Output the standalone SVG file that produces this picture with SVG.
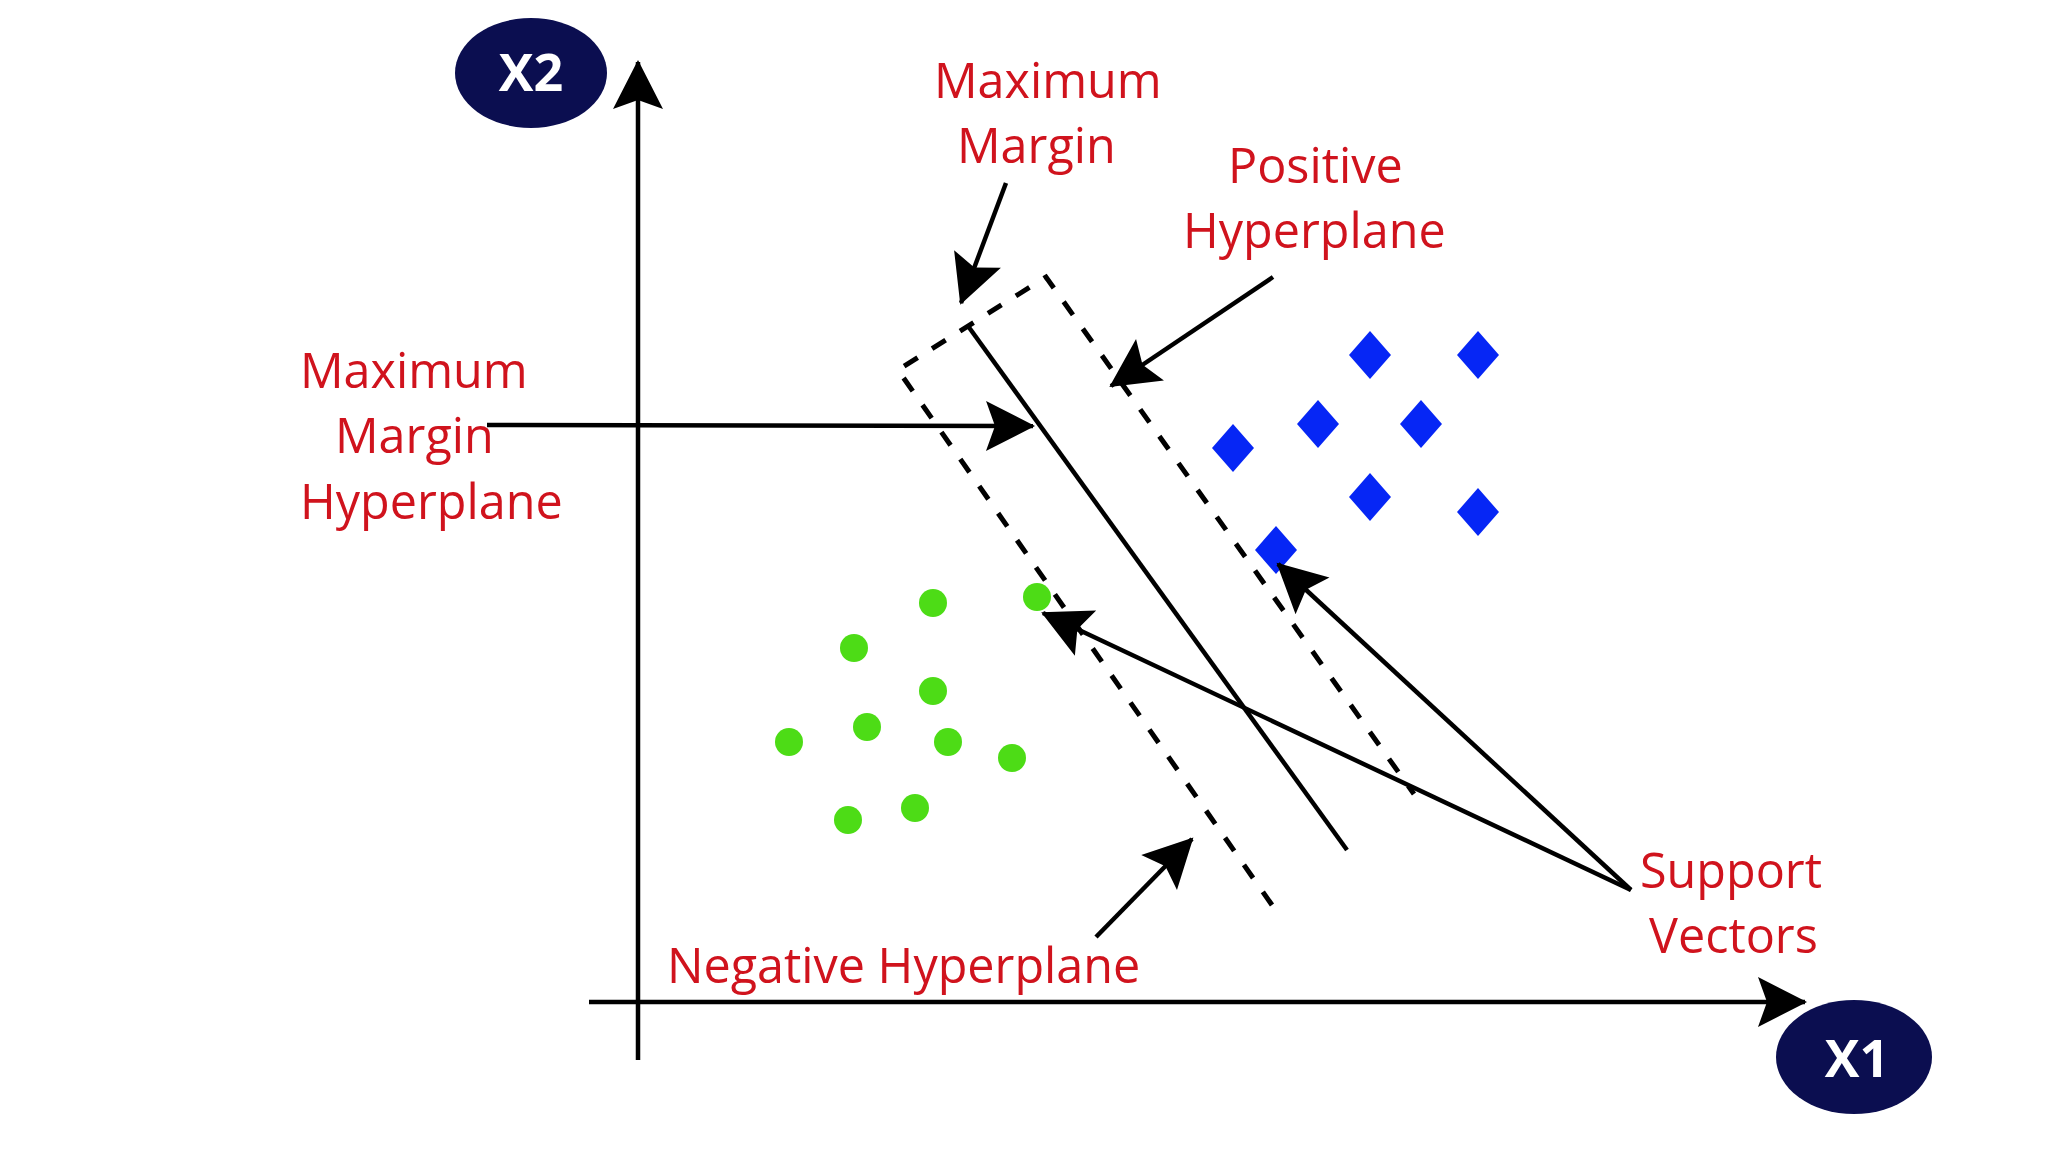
<svg xmlns="http://www.w3.org/2000/svg" width="2048" height="1152" viewBox="0 0 2048 1152">
<style>
.lbl{font-family:"Open Sans","Noto Sans","Liberation Sans",sans-serif;font-size:48.5px;fill:#d0131d}
.ax{font-family:"Open Sans","Noto Sans","Liberation Sans",sans-serif;font-size:52px;font-weight:700;fill:#ffffff;text-anchor:middle}
.navy{fill:#0b0e50}
.ln{stroke:#000;stroke-width:4.5;fill:none}
.dash{stroke:#000;stroke-width:5;fill:none;stroke-dasharray:16 17}
.dia{fill:#0626f5}
.dot{fill:#4ddc16}
</style>
<defs>
<marker id="ah" viewBox="-50 -28 54 56" refX="0" refY="0" markerWidth="54" markerHeight="56" markerUnits="userSpaceOnUse" orient="auto">
<path d="M2,0 L-47,-25 L-38,0 L-47,25 Z" fill="#000"/>
</marker>
</defs>
<rect width="2048" height="1152" fill="#ffffff"/>

<g id="axes">
<line class="ln" x1="638" y1="1060" x2="638" y2="62" stroke-width="6" marker-end="url(#ah)"/>
<line class="ln" x1="589" y1="1002" x2="1805" y2="1002" stroke-width="5.5" marker-end="url(#ah)"/>
</g>

<g id="node-x2">
<ellipse class="navy" cx="531" cy="73" rx="76" ry="55"/>
<text class="ax" x="531" y="91">X2</text>
</g>
<g id="node-x1">
<ellipse class="navy" cx="1854" cy="1057" rx="78" ry="57"/>
<text class="ax" x="1857" y="1077">X1</text>
</g>

<g id="margin-box">
<polyline class="dash" points="1272,905 898,370 1046,277 1414,794"/>
</g>
<g id="hyperplane">
<line class="ln" x1="968" y1="326" x2="1347" y2="850" stroke-width="4"/>
</g>

<g id="positive-points">
<path class="dia" d="M1370,331 L1391,355 L1370,379 L1349,355 Z"/>
<path class="dia" d="M1478,331 L1499,355 L1478,379 L1457,355 Z"/>
<path class="dia" d="M1233,424 L1254,448 L1233,472 L1212,448 Z"/>
<path class="dia" d="M1318,400 L1339,424 L1318,448 L1297,424 Z"/>
<path class="dia" d="M1421,400 L1442,424 L1421,448 L1400,424 Z"/>
<path class="dia" d="M1370,473 L1391,497 L1370,521 L1349,497 Z"/>
<path class="dia" d="M1478,488 L1499,512 L1478,536 L1457,512 Z"/>
<path class="dia" d="M1276,526 L1297,550 L1276,574 L1255,550 Z"/>
</g>

<g id="negative-points">
<circle class="dot" cx="933" cy="603" r="14"/>
<circle class="dot" cx="1037" cy="597" r="14"/>
<circle class="dot" cx="854" cy="648" r="14"/>
<circle class="dot" cx="933" cy="691" r="14"/>
<circle class="dot" cx="867" cy="727" r="14"/>
<circle class="dot" cx="789" cy="742" r="14"/>
<circle class="dot" cx="948" cy="742" r="14"/>
<circle class="dot" cx="1012" cy="758" r="14"/>
<circle class="dot" cx="848" cy="820" r="14"/>
<circle class="dot" cx="915" cy="808" r="14"/>
</g>

<g id="connectors">
<line class="ln" x1="1006" y1="183" x2="961" y2="303" marker-end="url(#ah)"/>
<line class="ln" x1="1273" y1="277" x2="1111" y2="386" marker-end="url(#ah)"/>
<line class="ln" x1="487" y1="425" x2="1033" y2="426" marker-end="url(#ah)"/>
<line class="ln" x1="1631" y1="890" x2="1278" y2="564" marker-end="url(#ah)"/>
<line class="ln" x1="1631" y1="890" x2="1043" y2="613" marker-end="url(#ah)"/>
<line class="ln" x1="1096" y1="937" x2="1192" y2="839" marker-end="url(#ah)"/>
</g>

<g id="label-maximum-margin">
<text class="lbl" x="934" y="98">Maximum</text>
<text class="lbl" x="957" y="163">Margin</text>
</g>
<g id="label-positive-hyperplane">
<text class="lbl" x="1228" y="183">Positive</text>
<text class="lbl" x="1183" y="248">Hyperplane</text>
</g>
<g id="label-max-margin-hyperplane">
<text class="lbl" x="300" y="388">Maximum</text>
<text class="lbl" x="335" y="453">Margin</text>
<text class="lbl" x="300" y="519">Hyperplane</text>
</g>
<g id="label-support-vectors">
<text class="lbl" x="1640" y="888">Support</text>
<text class="lbl" x="1649" y="953">Vectors</text>
</g>
<g id="label-negative-hyperplane">
<text class="lbl" x="667" y="983">Negative Hyperplane</text>
</g>
</svg>
